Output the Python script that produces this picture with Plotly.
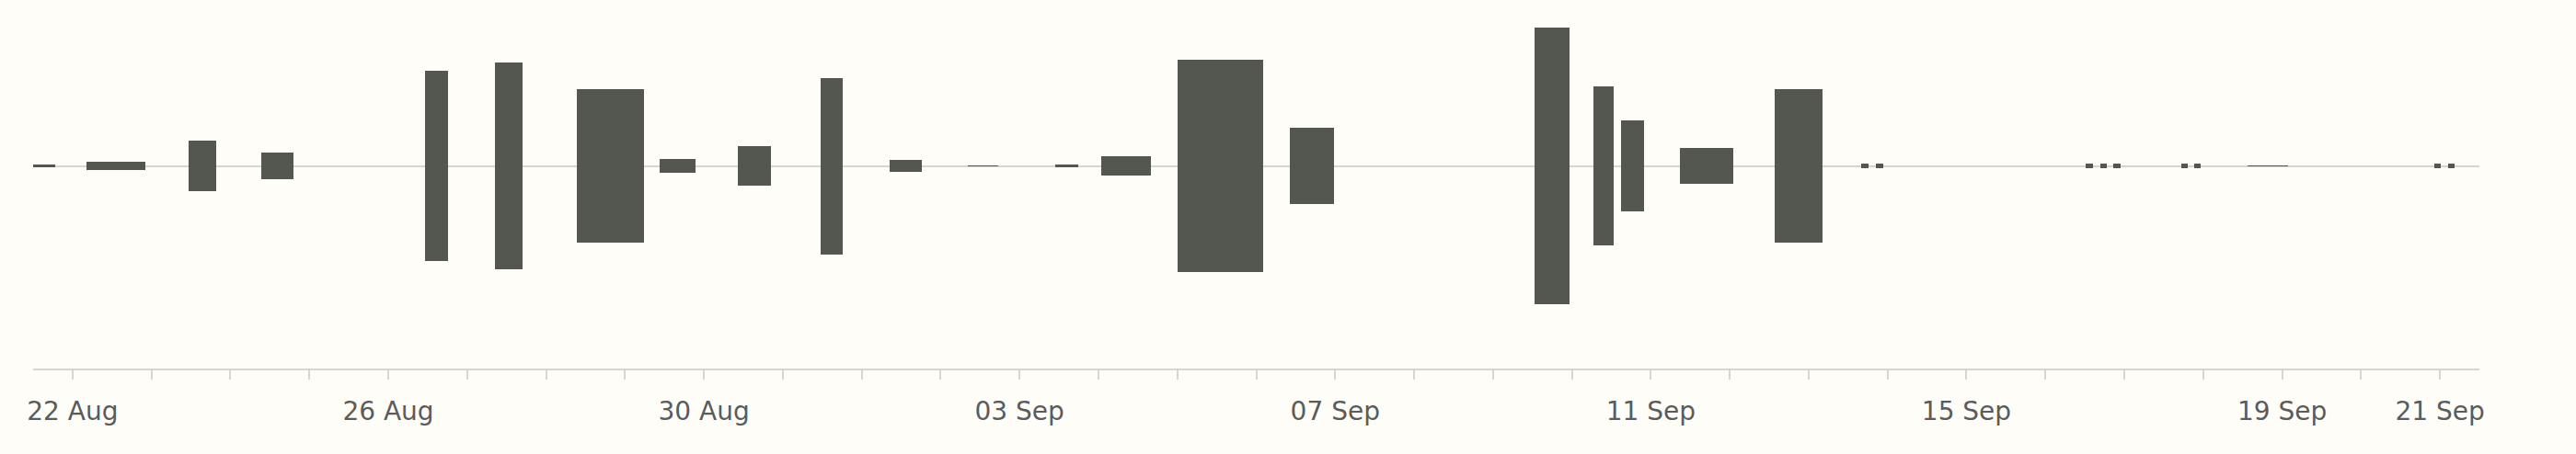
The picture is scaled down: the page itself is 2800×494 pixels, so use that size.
import pandas as pd
import plotly.graph_objects as go

# Intervals (start, end) and their values (arbitrary units)
starts = [
    "2024-08-21 12:00", "2024-08-22 04:20", "2024-08-23 11:15", "2024-08-24 09:20",
    "2024-08-26 11:10", "2024-08-27 08:35", "2024-08-28 09:20", "2024-08-29 10:35",
    "2024-08-30 10:20", "2024-08-31 11:25", "2024-09-01 08:35", "2024-09-02 08:15",
    "2024-09-03 10:50", "2024-09-04 00:45", "2024-09-05 00:00", "2024-09-06 10:05",
    "2024-09-09 12:30", "2024-09-10 06:30", "2024-09-10 14:55", "2024-09-11 08:55",
    "2024-09-12 13:40", "2024-09-13 16:05", "2024-09-13 20:25", "2024-09-16 12:15",
    "2024-09-16 16:35", "2024-09-16 20:40", "2024-09-17 17:15", "2024-09-17 21:15",
    "2024-09-18 13:25", "2024-09-20 22:20", "2024-09-21 02:30",
]
ends = [
    "2024-08-21 18:35", "2024-08-22 22:00", "2024-08-23 19:45", "2024-08-24 19:10",
    "2024-08-26 18:05", "2024-08-27 16:55", "2024-08-29 05:50", "2024-08-29 21:20",
    "2024-08-30 20:30", "2024-08-31 18:10", "2024-09-01 18:25", "2024-09-02 17:30",
    "2024-09-03 17:55", "2024-09-04 15:50", "2024-09-06 02:00", "2024-09-06 23:45",
    "2024-09-09 23:15", "2024-09-10 12:45", "2024-09-10 21:50", "2024-09-12 01:10",
    "2024-09-13 04:05", "2024-09-13 18:15", "2024-09-13 22:35", "2024-09-16 14:25",
    "2024-09-16 18:45", "2024-09-16 22:50", "2024-09-17 19:15", "2024-09-17 23:15",
    "2024-09-19 01:55", "2024-09-21 00:15", "2024-09-21 04:30",
]
values = [
    1.0, 2.7, 18.1, 9.6,
    69.2, 74.8, 55.6, 4.8,
    14.2, 64.0, 4.1, 0.2,
    1.0, 7.1, 77.0, 27.7,
    100.3, 57.7, 33.2, 13.2,
    55.8, 1.7, 1.7, 1.7,
    1.7, 1.7, 1.7, 1.7,
    0.2, 1.7, 1.7,
]

tick_days = pd.date_range("2024-08-22", "2024-09-21", freq="D")
labeled = ["22 Aug", "26 Aug", "30 Aug", "03 Sep", "07 Sep", "11 Sep", "15 Sep", "19 Sep", "21 Sep"]

s = pd.to_datetime(starts)
e = pd.to_datetime(ends)
widths_ms = [(b - a).total_seconds() * 1000 for a, b in zip(s, e)]
bases = [-v / 2 for v in values]

ticktext = []
for d in tick_days:
    lab = d.strftime("%d %b")
    ticktext.append(lab if lab in labeled else "")

BG = "#fffdf7"
GRID = "#d6d6ce"

fig = go.Figure(
    go.Bar(
        x=s,
        y=values,
        base=bases,
        width=widths_ms,
        offset=0,
        marker=dict(color="#545750", line=dict(width=0)),
        hoverinfo="skip",
    )
)

fig.update_layout(
    width=2800,
    height=494,
    paper_bgcolor=BG,
    plot_bgcolor=BG,
    margin=dict(l=36, r=105, t=20, b=93),
    showlegend=False,
    bargap=0,
    font=dict(family="DejaVu Sans", size=28, color="#5b5b5b"),
)

fig.update_xaxes(
    type="date",
    range=["2024-08-21 12:00", "2024-09-21 12:00"],
    tickvals=list(tick_days),
    ticktext=ticktext,
    ticks="outside",
    ticklen=10,
    tickwidth=2,
    tickcolor=GRID,
    ticklabelstandoff=10,
    showline=True,
    linecolor=GRID,
    linewidth=2,
    showgrid=False,
    zeroline=False,
    fixedrange=True,
)

fig.update_yaxes(
    range=[-73.5, 53.5],
    showticklabels=False,
    showgrid=False,
    zeroline=True,
    zerolinecolor=GRID,
    zerolinewidth=2,
    showline=False,
    ticks="",
    fixedrange=True,
)

fig.write_html(
    "out.html",
    config={"displayModeBar": False},
    post_script="document.body.style.margin='0';document.body.style.background='" + BG + "';",
)
